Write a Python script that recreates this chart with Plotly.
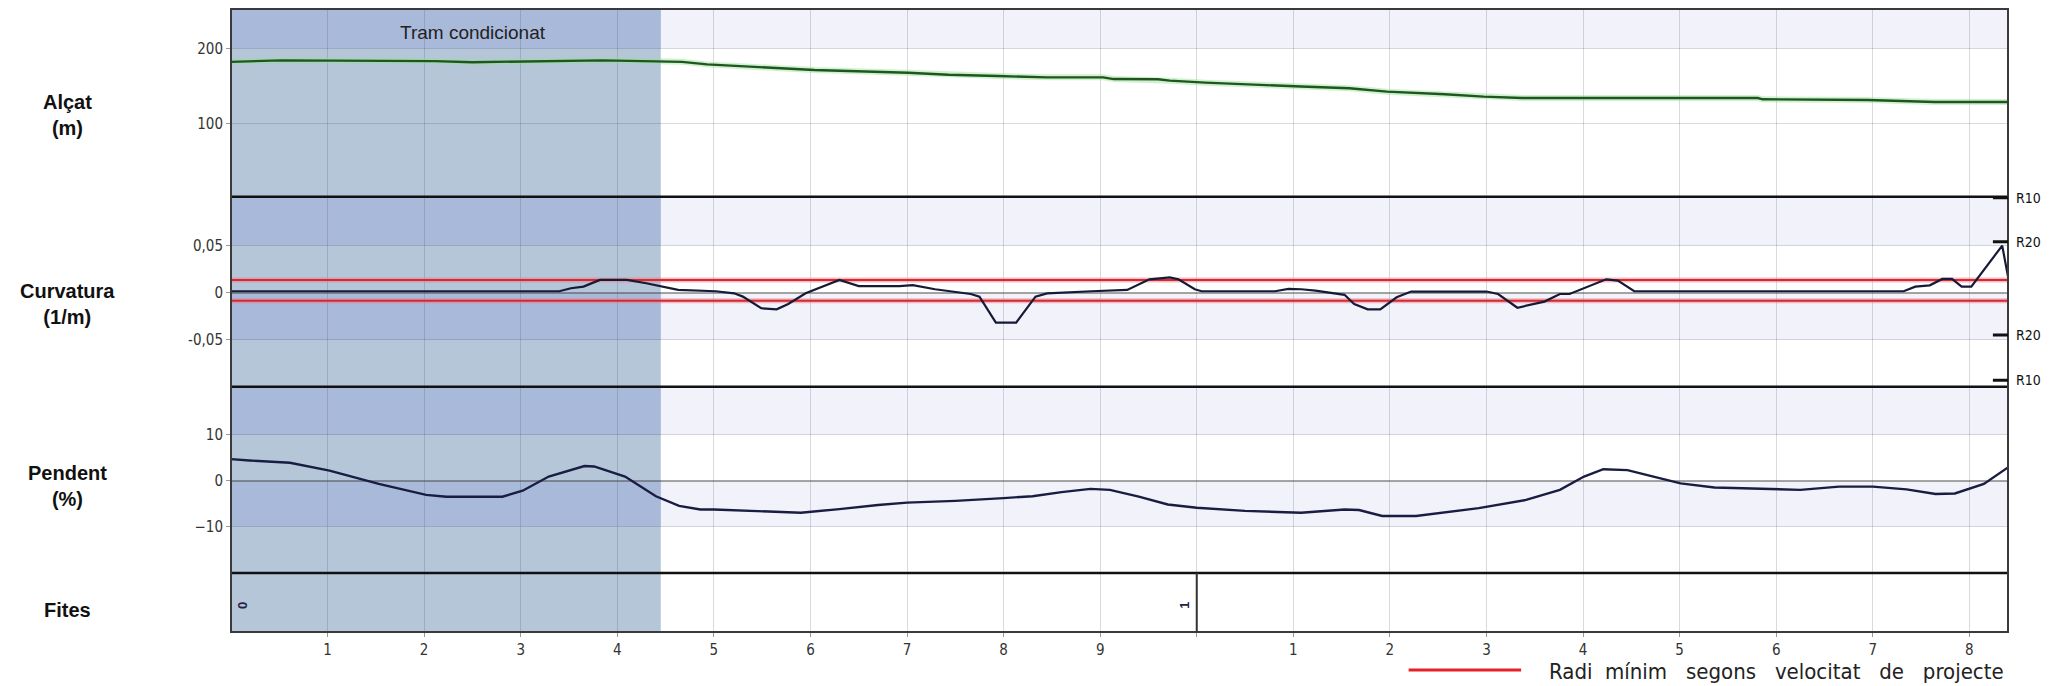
import plotly.graph_objects as go

# distance along the route, in hundreds of metres
ELEV_KM = [0.0, 0.52, 2.11, 2.5, 3.85, 4.31, 4.67, 4.93, 5.67, 6.04, 7.01, 7.43, 7.94, 8.45,
           9.03, 9.14, 9.6, 9.72, 10.09, 10.4, 10.72, 11.08, 11.58, 11.97, 12.57, 12.97,
           13.37, 15.81, 15.86, 16.95, 17.64, 18.4]
ELEV_M = [182, 184, 183, 181.5, 184, 182.5, 182, 178.6, 173.3, 171, 167.5, 164.8, 163, 161.3,
          161.3, 159, 158.7, 156.9, 154.2, 152.4, 150.2, 149, 146.7, 142.2, 138.7, 135.5,
          133.7, 133.7, 132, 131, 128.4, 128.4]

CURV_KM = [0, 3.4, 3.52, 3.65, 3.82, 4.1, 4.3, 4.63, 5.02, 5.21, 5.3, 5.49, 5.65, 5.77, 5.95,
           6.13, 6.3, 6.5, 6.92, 7.06, 7.29, 7.66, 7.75, 7.92, 8.13, 8.33, 8.45, 8.91, 9.28,
           9.51, 9.72, 9.81, 9.98, 10.05, 10.81, 10.95, 11.08, 11.23, 11.53, 11.63, 11.77,
           11.9, 12.07, 12.22, 13.0, 13.12, 13.32, 13.6, 13.76, 13.86, 14.06, 14.24, 14.36,
           14.53, 17.32, 17.44, 17.59, 17.72, 17.82, 17.92, 18.02, 18.19, 18.34, 18.4]
CURV = [0.0015, 0.0015, 0.0047, 0.0064, 0.0135, 0.0135, 0.01, 0.003, 0.0015, -0.0007, -0.0042,
        -0.0166, -0.0177, -0.012, -0.0007, 0.0064, 0.0135, 0.007, 0.007, 0.008, 0.0036,
        -0.0014, -0.0042, -0.0318, -0.0318, -0.0042, -0.0007, 0.0015, 0.0029, 0.0142, 0.0163,
        0.0142, 0.0036, 0.0015, 0.0015, 0.004, 0.0036, 0.0022, -0.0023, -0.012, -0.0177,
        -0.0177, -0.0049, 0.0012, 0.0012, -0.0014, -0.016, -0.0095, -0.0014, -0.0014, 0.0064,
        0.0142, 0.0128, 0.0015, 0.0015, 0.0064, 0.0078, 0.0146, 0.0146, 0.0064, 0.0064,
        0.0295, 0.05, 0.017]

SLOPE_KM = [0, 0.19, 0.61, 1.02, 1.53, 2.02, 2.23, 2.81, 3.02, 3.29, 3.66, 3.76, 4.08, 4.4,
            4.64, 4.86, 5.0, 5.5, 5.9, 6.3, 6.7, 7.0, 7.5, 8.0, 8.3, 8.6, 8.9, 9.1, 9.4, 9.7,
            10.0, 10.5, 11.08, 11.53, 11.68, 11.92, 12.27, 12.92, 13.07, 13.41, 13.76, 14.01,
            14.21, 14.46, 14.76, 15.01, 15.36, 15.85, 16.25, 16.65, 17.0, 17.35, 17.65, 17.85,
            18.15, 18.4]
SLOPE = [4.7, 4.4, 3.9, 2.2, -0.7, -3.1, -3.5, -3.5, -2.2, 0.9, 3.2, 3.1, 0.9, -3.4, -5.5,
         -6.3, -6.3, -6.6, -7.0, -6.2, -5.3, -4.8, -4.4, -3.8, -3.4, -2.5, -1.8, -2.0, -3.5,
         -5.2, -5.9, -6.6, -7.0, -6.3, -6.4, -7.7, -7.7, -6.0, -5.4, -4.2, -2.0, 0.9, 2.5, 2.3,
         0.7, -0.6, -1.5, -1.7, -2.0, -1.3, -1.3, -1.9, -2.9, -2.8, -0.7, 2.9]

# minimum radius band (1/m)
RADI_MIN = [0.0135, -0.0085]

# R10 / R20 markers on the right side of the curvature panel
R_LABELS = ['R10', 'R20', 'R20', 'R10']
R_VALUES = [0.101, 0.054, -0.045, -0.093]

FITA_TEXT = ['0', '1']
FITA_KM = [0.12, 9.87]
FITA_LINE_KM = [10.0]

TICK_VALS = list(range(1, 19))
TICK_TEXT = ['1', '2', '3', '4', '5', '6', '7', '8', '9', '',
             '1', '2', '3', '4', '5', '6', '7', '8']

XMAX = 18.4
TRAM_END = 4.45

RANGES = {'y': [2, 252.5], 'y2': [-0.1, 0.102], 'y3': [-20.15, 20.5], 'y4': [0, 1]}
DOMAINS = {'y': [0.6987, 1], 'y2': [0.3937, 0.6987], 'y3': [0.0947, 0.3937], 'y4': [0, 0.0947]}

NARROW = "Liberation Sans Narrow, DejaVu Sans Condensed, Arial Narrow, sans-serif"
SANS = "Liberation Sans, Arial, sans-serif"
GRID = "rgba(60,70,100,0.2)"

fig = go.Figure()

# elevation, with a faint green halo
fig.add_trace(go.Scatter(x=ELEV_KM, y=ELEV_M, mode='lines', yaxis='y', showlegend=False,
                         line=dict(color='rgba(150,225,150,0.45)', width=6), hoverinfo='skip'))
fig.add_trace(go.Scatter(x=ELEV_KM, y=ELEV_M, mode='lines', yaxis='y', showlegend=False,
                         line=dict(color='#1f561f', width=2.4)))

# minimum radius lines
for r in RADI_MIN:
    fig.add_trace(go.Scatter(x=[0, XMAX], y=[r, r], mode='lines', yaxis='y2', showlegend=False,
                             line=dict(color='rgba(240,120,130,0.5)', width=5), hoverinfo='skip'))
    fig.add_trace(go.Scatter(x=[0, XMAX], y=[r, r], mode='lines', yaxis='y2', showlegend=False,
                             line=dict(color='#d42a33', width=2)))

fig.add_trace(go.Scatter(x=CURV_KM, y=CURV, mode='lines', yaxis='y2', showlegend=False,
                         line=dict(color='#161a36', width=2.2)))

fig.add_trace(go.Scatter(x=SLOPE_KM, y=SLOPE, mode='lines', yaxis='y3', showlegend=False,
                         line=dict(color='#1a1d42', width=2.4)))

# empty trace so the Fites panel exists
fig.add_trace(go.Scatter(x=[0, XMAX], y=[-1, -1], mode='lines', yaxis='y4', showlegend=False,
                         line=dict(width=0), hoverinfo='skip'))

shapes = []
# tram condicionat background
shapes.append(dict(type='rect', xref='x', yref='paper', x0=0, x1=TRAM_END, y0=0, y1=1,
                   fillcolor='#b4c6d7', line_width=0, layer='below'))
# alternating lavender bands
bands = [('y', 200, 252.5), ('y2', 0.05, 0.102), ('y2', -0.05, 0),
         ('y3', 10, 20.5), ('y3', -10, 0)]
for yref, y0, y1 in bands:
    shapes.append(dict(type='rect', xref='x', yref=yref, x0=TRAM_END, x1=XMAX, y0=y0, y1=y1,
                       fillcolor='#f2f2fa', line_width=0, layer='below'))
    shapes.append(dict(type='rect', xref='x', yref=yref, x0=0, x1=TRAM_END, y0=y0, y1=y1,
                       fillcolor='#a9b9d9', line_width=0, layer='below'))
# panel separators
for yb in [DOMAINS['y4'][1], DOMAINS['y3'][1], DOMAINS['y2'][1]]:
    shapes.append(dict(type='line', xref='paper', yref='paper', x0=0, x1=1, y0=yb, y1=yb,
                       line=dict(color='#111111', width=2.5)))
# outer frame
shapes.append(dict(type='rect', xref='paper', yref='paper', x0=0, x1=1, y0=0, y1=1,
                   line=dict(color='#3a3a3a', width=2)))
# fita line
for fx in FITA_LINE_KM:
    shapes.append(dict(type='line', xref='x', yref='y4', x0=fx, x1=fx, y0=0, y1=1,
                       line=dict(color='#333333', width=2)))
# R markers
for rv in R_VALUES:
    shapes.append(dict(type='line', xref='paper', yref='y2', x0=0.9915, x1=1.0, y0=rv, y1=rv,
                       line=dict(color='#111111', width=3)))
# legend line
shapes.append(dict(type='line', xref='paper', yref='paper', x0=0.6627, x1=0.726,
                   y0=-0.061, y1=-0.061, line=dict(color='#e8202a', width=3)))

annotations = [
    dict(text='Tram condicionat', x=2.51, y=221, xref='x', yref='y', showarrow=False,
         xanchor='center', yanchor='middle',
         font=dict(family=SANS, size=19, color='#222222')),
    dict(text='Radi  mínim   segons   velocitat   de   projecte', x=0.7407, y=-0.064,
         xref='paper', yref='paper', xanchor='left', yanchor='middle', showarrow=False,
         font=dict(family=NARROW, size=22, color='#222222')),
]
side_labels = [('Alçat<br>(m)', 0.83), ('Curvatura<br>(1/m)', 0.527),
               ('Pendent<br>(%)', 0.235), ('Fites', 0.0355)]
for txt, yy in side_labels:
    annotations.append(dict(text='<b>' + txt + '</b>', x=-0.092, y=yy, xref='paper', yref='paper',
                            xanchor='center', yanchor='middle', showarrow=False,
                            font=dict(family=SANS, size=20, color='#111111')))
for lab, rv in zip(R_LABELS, R_VALUES):
    annotations.append(dict(text=lab, x=1.0035, y=rv, xref='paper', yref='y2', xanchor='left',
                            yanchor='middle', showarrow=False,
                            font=dict(family=NARROW, size=14, color='#111111')))
for t, fx in zip(FITA_TEXT, FITA_KM):
    annotations.append(dict(text='<b>' + t + '</b>', x=fx, y=0.45, xref='x', yref='y4',
                            textangle=-90, showarrow=False,
                            font=dict(family=SANS, size=13, color='#222244')))

tickfont = dict(family=NARROW, size=15, color='#333333')
yaxis_common = dict(showgrid=True, gridcolor=GRID, gridwidth=1, ticks='outside', ticklen=4,
                    tickcolor='#999999', tickfont=tickfont, showline=False, fixedrange=True)

# the page body adds an 8px offset, so margins are shifted to compensate
fig.update_layout(
    width=2052, height=686,
    margin=dict(l=223, r=52, t=1, b=62),
    paper_bgcolor='white', plot_bgcolor='rgba(0,0,0,0)',
    showlegend=False,
    xaxis=dict(range=[0, XMAX], anchor='y4', tickvals=TICK_VALS, ticktext=TICK_TEXT,
               showgrid=True, gridcolor=GRID, gridwidth=1, ticks='outside', ticklen=4,
               tickcolor='#999999', tickfont=tickfont, zeroline=False, showline=False),
    yaxis=dict(domain=DOMAINS['y'], range=RANGES['y'], tickvals=[100, 200],
               zeroline=False, **yaxis_common),
    yaxis2=dict(domain=DOMAINS['y2'], range=RANGES['y2'], tickvals=[-0.05, 0, 0.05],
                ticktext=['-0,05', '0', '0,05'], zeroline=True,
                zerolinecolor='rgba(60,60,60,0.45)', zerolinewidth=1.5, **yaxis_common),
    yaxis3=dict(domain=DOMAINS['y3'], range=RANGES['y3'], tickvals=[-10, 0, 10],
                zeroline=True, zerolinecolor='rgba(60,60,60,0.45)', zerolinewidth=1.5,
                **yaxis_common),
    yaxis4=dict(domain=DOMAINS['y4'], range=RANGES['y4'], showgrid=False, showticklabels=False,
                zeroline=False, ticks='', fixedrange=True),
    shapes=shapes,
    annotations=annotations,
)

fig.write_html("out.html")
